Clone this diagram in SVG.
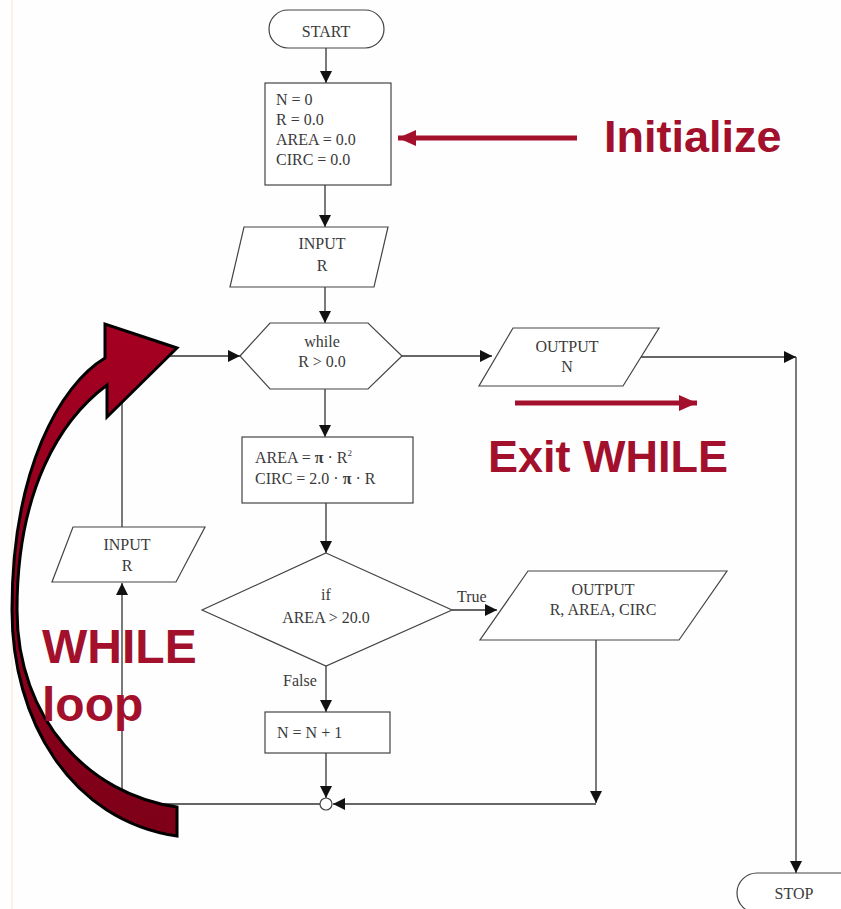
<svg xmlns="http://www.w3.org/2000/svg" width="841" height="909" viewBox="0 0 841 909">
<defs>
<style>
.sh{fill:#fff;stroke:#444;stroke-width:1.2}
.ln{fill:none;stroke:#333;stroke-width:1.3}
.t{font-family:"Liberation Serif","Times New Roman",serif;font-size:16px;fill:#3a3a3a}
.c{text-anchor:middle}
.red{font-family:"Liberation Sans",Arial,sans-serif;font-weight:bold;fill:#a3102c}
</style>
<marker id="ah" markerWidth="12" markerHeight="12" refX="12" refY="6" orient="auto" markerUnits="userSpaceOnUse"><path d="M0,0 L12,6 L0,12 z" fill="#111"/></marker>
<marker id="rh" markerWidth="20" markerHeight="20" refX="18" refY="10" orient="auto" markerUnits="userSpaceOnUse"><path d="M0,2 L18,10 L0,18 z" fill="#a3102c"/></marker>
<linearGradient id="rg" x1="0" y1="0" x2="0" y2="1"><stop offset="0" stop-color="#a50022"/><stop offset="1" stop-color="#7d0018"/></linearGradient>
</defs>
<rect width="841" height="909" fill="#fefefe"/>
<rect x="11" y="0" width="2" height="909" fill="#fcf3e2"/>

<g id="connectors">
<path class="ln" d="M326,48 V83" marker-end="url(#ah)"/>
<path class="ln" d="M325,185 V227" marker-end="url(#ah)"/>
<path class="ln" d="M325,287 V323" marker-end="url(#ah)"/>
<path class="ln" d="M122,527 V356 H240" marker-end="url(#ah)"/>
<path class="ln" d="M402,356 H492" marker-end="url(#ah)"/>
<path class="ln" d="M641,357 H796" marker-end="url(#ah)"/>
<path class="ln" d="M796,357 V873" marker-end="url(#ah)"/>
<path class="ln" d="M325,389 V437" marker-end="url(#ah)"/>
<path class="ln" d="M326,503 V553" marker-end="url(#ah)"/>
<path class="ln" d="M452,610 H497" marker-end="url(#ah)"/>
<path class="ln" d="M326,666 V712" marker-end="url(#ah)"/>
<path class="ln" d="M326,753 V798" marker-end="url(#ah)"/>
<path class="ln" d="M596,640 V803" marker-end="url(#ah)"/>
<path class="ln" d="M596,804 H333" marker-end="url(#ah)"/>
<path class="ln" d="M320,804 H122 V583" marker-end="url(#ah)"/>
<text class="t" x="457" y="602">True</text>
<text class="t" x="283" y="686">False</text>
</g>

<g id="start">
<rect class="sh" x="269" y="10" width="115" height="38" rx="19"/>
<text class="t c" x="326" y="37">START</text>
</g>
<g id="init">
<rect class="sh" x="265" y="83" width="126" height="102"/>
<text class="t" x="276" y="105">N = 0</text>
<text class="t" x="276" y="125">R = 0.0</text>
<text class="t" x="276" y="145">AREA = 0.0</text>
<text class="t" x="276" y="165">CIRC = 0.0</text>
</g>
<g id="input1">
<polygon class="sh" points="244,227 388,227 374,287 230,287"/>
<text class="t c" x="322" y="249">INPUT</text>
<text class="t c" x="322" y="271">R</text>
</g>
<g id="while">
<polygon class="sh" points="240,356 270,323 368,323 402,356 368,389 270,389"/>
<text class="t c" x="322" y="347">while</text>
<text class="t c" x="322" y="367">R &gt; 0.0</text>
</g>
<g id="outputN">
<polygon class="sh" points="513,328 659,328 623,386 479,386"/>
<text class="t c" x="567" y="352">OUTPUT</text>
<text class="t c" x="567" y="372">N</text>
</g>
<g id="calc">
<rect class="sh" x="242" y="437" width="171" height="66"/>
<text class="t" x="255" y="463">AREA = <tspan font-weight="bold">π</tspan> · R<tspan dy="-7" font-size="9">2</tspan></text>
<text class="t" x="255" y="484">CIRC = 2.0 · <tspan font-weight="bold">π</tspan> · R</text>
</g>
<g id="ifnode">
<polygon class="sh" points="326,553 452,610 326,666 202,610"/>
<text class="t c" x="326" y="600">if</text>
<text class="t c" x="326" y="623">AREA &gt; 20.0</text>
</g>
<g id="outputAll">
<polygon class="sh" points="528,571 727,571 679,640 480,640"/>
<text class="t c" x="603" y="595">OUTPUT</text>
<text class="t c" x="603" y="615">R, AREA, CIRC</text>
</g>
<g id="incr">
<rect class="sh" x="265" y="712" width="125" height="41"/>
<text class="t" x="277" y="738">N = N + 1</text>
</g>
<g id="join">
<circle class="sh" cx="326" cy="804" r="6"/>
</g>
<g id="input2">
<polygon class="sh" points="73,527 205,527 176,582 52,582"/>
<text class="t c" x="127" y="550">INPUT</text>
<text class="t c" x="127" y="571">R</text>
</g>
<g id="stop">
<rect class="sh" x="737" y="873" width="130" height="40" rx="20"/>
<text class="t c" x="794" y="899">STOP</text>
</g>

<g id="annotations">
<path d="M105,358 C60,385 12,470 12,610 C12,720 70,820 177,836 L177,807 C90,795 17,720 17,610 C17,490 60,420 107,385 L107,417 L177,348 L105,324 Z" fill="url(#rg)" stroke="#000" stroke-width="3" stroke-linejoin="miter"/>
<line x1="577" y1="138" x2="398" y2="138" stroke="#a3102c" stroke-width="5" marker-end="url(#rh)"/>
<text class="red" x="604" y="152" style="font-size:45px">Initialize</text>
<line x1="515" y1="403" x2="697" y2="403" stroke="#a3102c" stroke-width="5" marker-end="url(#rh)"/>
<text class="red" x="488" y="472" style="font-size:45px">Exit WHILE</text>
<text class="red" x="42" y="663" style="font-size:48px">WHILE</text>
<text class="red" x="42" y="721" style="font-size:48px">loop</text>
</g>
</svg>
